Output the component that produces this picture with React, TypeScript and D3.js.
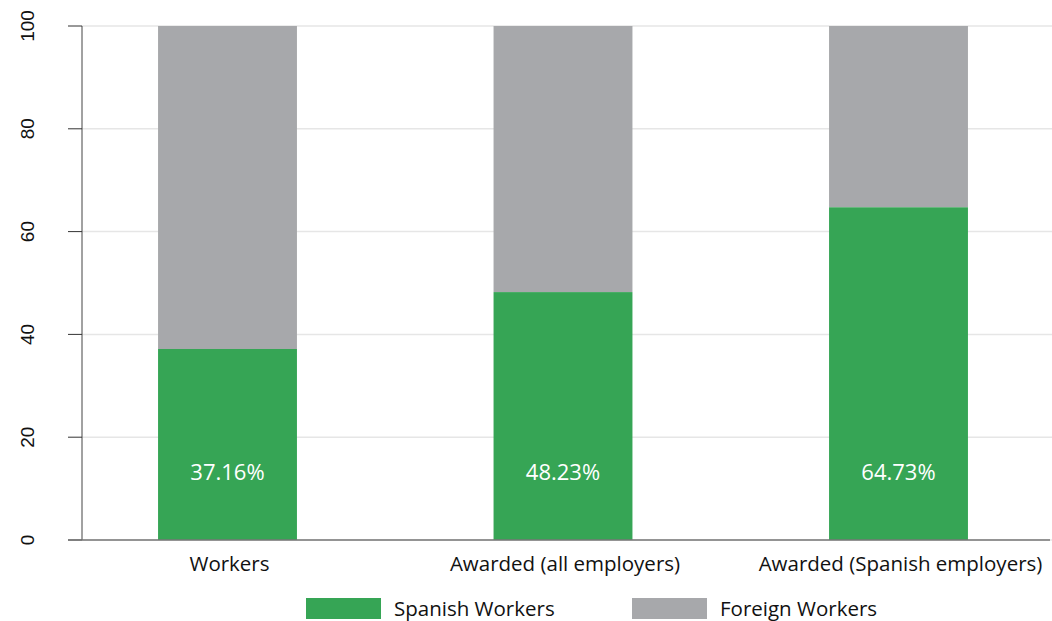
import React from "react";
import * as d3 from "d3";

const categories = ["Workers", "Awarded (all employers)", "Awarded (Spanish employers)"];
const spanishValues = [37.16, 48.23, 64.73];
const foreignValues = [62.84, 51.77, 35.27];
const yTicks = [0, 20, 40, 60, 80, 100];
const seriesNames = ["Spanish Workers", "Foreign Workers"];
const seriesColors = ["#36a555", "#a7a8ab"];

const W = 1052;
const H = 621;
const axisX = 82;
const gridRight = 1052;

export default function App() {
  const y = d3.scaleLinear().domain([0, 100]).range([540, 26]);
  const x = d3
    .scaleBand<string>()
    .domain(categories)
    .range([59.75, 1066.25])
    .paddingInner(0.586)
    .paddingOuter(0.293);
  const bw = x.bandwidth();
  const catFont = "'Open Sans', 'Noto Sans', sans-serif";

  return (
    <svg width={W} height={H} style={{ position: "absolute", left: 0, top: 0, background: "#fff" }}>
      {yTicks.map((t) => (
        <line key={"g" + t} x1={axisX} x2={gridRight} y1={y(t)} y2={y(t)} stroke="#e6e6e6" strokeWidth={1.5} />
      ))}
      {categories.map((c, i) => (
        <g key={c}>
          <rect x={x(c)} y={y(spanishValues[i] + foreignValues[i])} width={bw} height={y(spanishValues[i]) - y(spanishValues[i] + foreignValues[i])} fill={seriesColors[1]} />
          <rect x={x(c)} y={y(spanishValues[i])} width={bw} height={y(0) - y(spanishValues[i])} fill={seriesColors[0]} />
          <text
            x={(x(c) as number) + bw / 2}
            y={471}
            textAnchor="middle"
            dominantBaseline="central"
            fill="#fff"
            fontSize={22}
            fontFamily={catFont}
          >
            {spanishValues[i].toFixed(2) + "%"}
          </text>
          <text
            x={(x(c) as number) + bw / 2 + 2}
            y={563}
            textAnchor="middle"
            dominantBaseline="central"
            fill="#111"
            fontSize={20.5}
            fontFamily={catFont}
          >
            {c}
          </text>
        </g>
      ))}
      <line x1={axisX} x2={axisX} y1={y(100)} y2={y(0)} stroke="#444" strokeWidth={1} />
      {yTicks.map((t) => (
        <g key={"t" + t}>
          <line x1={68} x2={axisX} y1={y(t)} y2={y(t)} stroke="#333" strokeWidth={1} />
          <text
            transform={`translate(27,${y(t)}) rotate(-90)`}
            textAnchor="middle"
            dominantBaseline="central"
            fontSize={19}
            fontFamily="'Liberation Sans', Arial, sans-serif"
            fill="#111"
          >
            {t}
          </text>
        </g>
      ))}
      <line x1={68} x2={1050} y1={y(0)} y2={y(0)} stroke="#777" strokeWidth={1.5} />
      {seriesNames.map((s, i) => {
        const lx = [306, 632][i];
        return (
          <g key={s}>
            <rect x={lx} y={598} width={75} height={21} fill={seriesColors[i]} />
            <text x={lx + 88} y={608} dominantBaseline="central" fontSize={20.5} fontFamily={catFont} fill="#111">
              {s}
            </text>
          </g>
        );
      })}
    </svg>
  );
}
